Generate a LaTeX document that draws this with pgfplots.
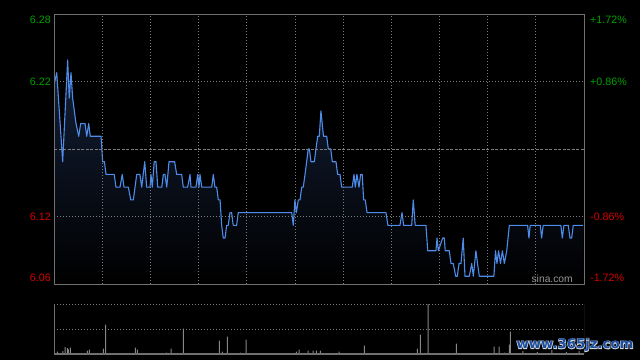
\documentclass[border=0pt]{standalone}
\usepackage{pgfplots}
\pgfplotsset{compat=1.18}
\usepackage{pgfplotstable}
\usepackage{graphicx}
\usepackage{fontspec}
\setmainfont{Liberation Sans}
\newfontface\wmface{DejaVu Sans Bold}
\newfontface\wmglowface{DejaVu Sans Bold}[FakeBold=9]
\definecolor{framegray}{RGB}{112,112,112}
\definecolor{gridgray}{RGB}{125,125,125}
\definecolor{lineblue}{RGB}{78,140,235}
\definecolor{fillnavy}{RGB}{20,32,56}
\definecolor{upgreen}{RGB}{0,160,0}
\definecolor{downred}{RGB}{215,0,0}
\definecolor{volgray}{RGB}{135,135,135}
\definecolor{wmblue}{RGB}{28,78,160}
\definecolor{wmglow}{RGB}{205,212,222}

\pgfplotstableread{
t p
0 6.22
1.7 6.23
5.4 6.16
8.5 6.24
9.5 6.21
10.6 6.23
11.6 6.21
13.7 6.19
15.4 6.18
16.6 6.19
19.3 6.19
20.4 6.18
21.6 6.19
22.6 6.18
29.3 6.18
30.3 6.16
31.4 6.16
32.4 6.15
37.5 6.15
38.6 6.14
41.1 6.14
42.5 6.15
43.6 6.14
46.3 6.14
47.8 6.13
49.4 6.13
51.5 6.15
53.5 6.15
54.6 6.14
56.5 6.16
57.7 6.14
59.8 6.14
60.4 6.15
61.2 6.14
62.4 6.16
63.5 6.16
64.6 6.14
67.1 6.14
68.1 6.15
69.1 6.15
70.2 6.14
71.6 6.16
75.1 6.16
76.4 6.15
79.5 6.15
80.5 6.14
83.2 6.14
84.7 6.15
85.3 6.14
88.4 6.14
89.5 6.15
90.3 6.14
90.9 6.15
92.0 6.14
98.2 6.14
99.2 6.15
100.2 6.14
101.3 6.14
102.3 6.13
103.4 6.13
104.4 6.11
105.4 6.10
106.5 6.10
107.5 6.11
108.5 6.11
109.6 6.12
110.6 6.12
111.6 6.11
113.7 6.11
114.7 6.12
148.0 6.12
149.0 6.11
150.0 6.13
150.9 6.12
152.1 6.13
153.2 6.13
154.2 6.14
155.2 6.14
156.3 6.15
157.3 6.16
158.3 6.17
159.0 6.17
160.0 6.16
162.1 6.16
163.1 6.17
164.2 6.18
165.2 6.18
166.2 6.20
167.8 6.18
169.8 6.18
170.8 6.17
172.3 6.17
173.3 6.16
175.6 6.16
176.6 6.15
178.1 6.15
179.1 6.14
185.7 6.14
186.8 6.15
187.6 6.14
188.6 6.15
189.9 6.14
190.9 6.15
191.9 6.15
192.8 6.13
193.8 6.13
194.9 6.12
206.7 6.12
207.9 6.11
215.4 6.11
216.7 6.12
217.7 6.11
222.7 6.11
223.7 6.13
224.9 6.11
231.6 6.11
232.7 6.09
237.8 6.09
238.5 6.10
239.3 6.09
242.0 6.10
243.0 6.10
243.6 6.09
246.1 6.09
247.2 6.08
248.6 6.08
250.1 6.07
251.1 6.07
252.2 6.08
253.4 6.08
254.8 6.10
255.9 6.07
258.6 6.07
260.1 6.08
261.1 6.07
262.7 6.09
263.7 6.08
264.8 6.07
273.9 6.07
274.9 6.09
275.8 6.08
276.8 6.09
278.0 6.08
279.2 6.09
280.4 6.08
281.9 6.09
283.5 6.11
294.9 6.11
295.7 6.10
296.5 6.11
302.8 6.11
303.6 6.10
304.6 6.11
315.6 6.11
316.5 6.10
317.5 6.11
320.2 6.11
321.3 6.10
322.3 6.10
323.3 6.11
329.5 6.11
}\price

\pgfplotstableread{
t v
2.1 2.3
3.7 1
5.6 3
7.0 7
8.3 6
8.9 4.7
10.2 6.3
20.8 3.3
22.0 4.3
30.7 5.3
32.2 29.3
50.6 6.3
51.9 4.3
70.0 1.3
73.0 5.3
80.5 25.3
102.9 13.3
104.8 2.3
107.9 17.3
116.0 1.3
119.7 14.3
150.9 2.3
152.7 4.3
158.3 3.3
161.4 3.3
163.3 3.3
165.9 3.3
177.6 2.3
193.2 8.3
226.2 5.3
228.1 19.3
233.0 50
250.5 10.3
274.1 7.3
277.2 7.3
280.4 1.3
283.5 9.3
284.1 22.3
292.0 3
301.0 2
310.0 4
319.0 2
327.0 3
}\volume

\begin{document}
\begin{tikzpicture}[x=1pt,y=1pt]
\fill[black] (0,0) rectangle (640,360);
\coordinate (mainSW) at (54,76);
\coordinate (volSW) at (54,6);

\begin{axis}[
  at={(mainSW)}, anchor=south west,
  width=530pt, height=270pt, scale only axis,
  xmin=0, xmax=330, ymin=6.063876, ymax=6.276124,
  xtick={30,60,...,300}, ytick={6.116938,6.223062},
  xticklabels={}, yticklabels={},
  major tick length=0pt,
  grid=major,
  major grid style={gridgray, line width=0.8pt, dash pattern=on 1pt off 2pt},
  extra y ticks={6.17}, extra y tick labels={},
  extra y tick style={grid=major, major grid style={gridgray, line width=0.8pt, dash pattern=on 3pt off 1.5pt}},
  axis line style={framegray, line width=0.9pt},
  axis on top,
]
\addplot[draw=none, top color=fillnavy, bottom color=black] table[x=t,y=p]{\price}
  -- (axis cs:329.5,6.063876) -- (axis cs:0,6.063876) -- cycle;
\addplot[lineblue, line width=1.1pt, line join=round] table[x=t,y=p]{\price};
\end{axis}

\begin{axis}[
  at={(volSW)}, anchor=south west,
  width=530pt, height=50pt, scale only axis,
  xmin=0, xmax=330, ymin=0, ymax=50,
  xtick=\empty, ytick={25,50}, yticklabels={},
  major tick length=0pt,
  ymajorgrids,
  major grid style={gridgray, line width=0.8pt, dash pattern=on 1pt off 2pt},
  axis line style={draw=none},
]
\addplot[ybar, bar width=1pt, fill=volgray, draw=none] table[x=t,y=v]{\volume};
\draw[framegray, line width=0.9pt] (rel axis cs:0,0) -- (rel axis cs:0,1);
\draw[framegray, line width=0.9pt] (rel axis cs:1,0) -- (rel axis cs:1,1);
\draw[framegray, line width=1.2pt] (rel axis cs:0,0) -- (rel axis cs:1,0);
\end{axis}

\begin{scope}[every node/.style={font=\fontsize{10.7}{12}\selectfont, inner sep=0pt}]
\node[anchor=east, text=upgreen] at (51,340) {6.28};
\node[anchor=east, text=upgreen] at (51,278) {6.22};
\node[anchor=east, text=downred] at (51,143) {6.12};
\node[anchor=east, text=downred] at (51,82.5) {6.06};
\node[anchor=west, text=upgreen] at (590,340) {+1.72\%};
\node[anchor=west, text=upgreen] at (590,278) {+0.86\%};
\node[anchor=west, text=downred] at (590,143) {-0.86\%};
\node[anchor=west, text=downred] at (590,82.5) {-1.72\%};
\end{scope}
\node[anchor=base east, inner sep=0pt, text={rgb,255:red,150;green,150;blue,150}, font=\fontsize{10.3}{12}\selectfont] at (573,78) {sina.com};

\node[inner sep=0pt, text=wmglow] at (575,15) {\resizebox{117pt}{!}{\wmglowface www.365jz.com}};
\node[inner sep=0pt, text=wmblue] at (575,15) {\resizebox{117pt}{!}{\wmface www.365jz.com}};
\end{tikzpicture}
\end{document}
